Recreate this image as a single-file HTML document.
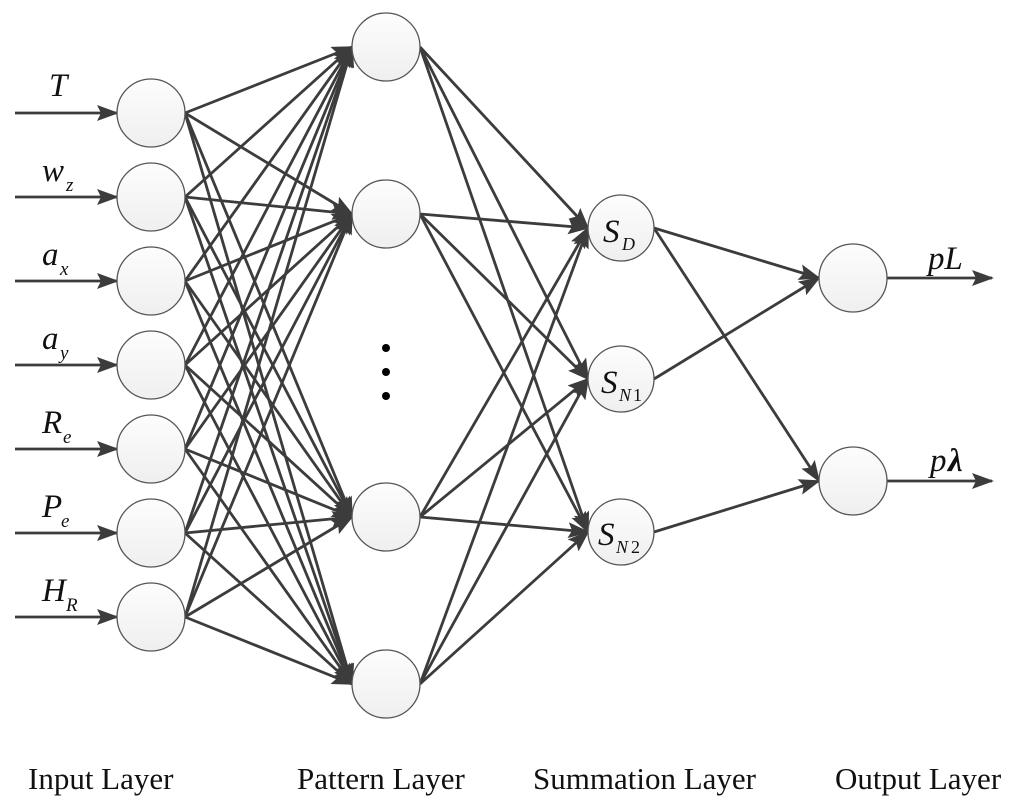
<!DOCTYPE html>
<html><head><meta charset="utf-8"><style>
body{margin:0;background:#fff;}
svg{display:block;}
text{font-family:"Liberation Serif",serif;fill:#111;}
</style></head><body>
<svg id="s" width="1024" height="811" viewBox="0 0 1024 811" xmlns="http://www.w3.org/2000/svg">
<defs>
<marker id="b" markerWidth="22" markerHeight="16" refX="20" refY="8" orient="auto" markerUnits="userSpaceOnUse">
<path d="M0,0 L22,8 L0,16 L4,8 Z" fill="#3c3c3c"/>
</marker>
<linearGradient id="g" x1="0" y1="0" x2="0" y2="1"><stop offset="0" stop-color="#fdfdfd"/><stop offset="1" stop-color="#efefef"/></linearGradient>
</defs>
<g id="lines" stroke="#3c3c3c" stroke-width="2.8" fill="none"></g>
<g id="nodes" stroke="#555" stroke-width="1.3" fill="url(#g)"></g>
<g font-style="italic" font-size="33">
<text x="49" y="96">T</text>
<text x="42" y="181">w</text><text x="66" y="191" font-size="19">z</text>
<text x="42" y="265">a</text><text x="60" y="275" font-size="19">x</text>
<text x="42" y="349">a</text><text x="60" y="359" font-size="19">y</text>
<text x="42" y="433">R</text><text x="63" y="443" font-size="19">e</text>
<text x="42" y="517">P</text><text x="61" y="527" font-size="19">e</text>
<text x="42" y="601">H</text><text x="66" y="611" font-size="19">R</text>
<text x="603" y="242">S</text><text x="622" y="250" font-size="18">D</text>
<text x="601" y="393">S</text><text x="619" y="401" font-size="18">N</text><text x="633" y="401" font-size="18" font-style="normal">1</text>
<text x="598" y="545">S</text><text x="616" y="553" font-size="18">N</text><text x="631" y="553" font-size="18" font-style="normal">2</text>
<text x="928" y="269">pL</text>
<text x="930" y="471">p</text><text x="948" y="471" font-weight="bold">λ</text>
</g>
<g fill="#000"><circle cx="386" cy="348" r="4"/><circle cx="386" cy="372" r="4"/><circle cx="386" cy="396" r="4"/></g>
<g font-size="31">
<text x="28" y="789">Input Layer</text>
<text x="297" y="789">Pattern Layer</text>
<text x="533" y="789">Summation Layer</text>
<text x="835" y="789">Output Layer</text>
</g>
</svg>
<script>
var NS="http://www.w3.org/2000/svg";
var L=document.getElementById("lines"),N=document.getElementById("nodes");
var inp=[113,197,281,365,449,533,617].map(function(y){return[151,y,34]});
var pat=[47,214,517,684].map(function(y){return[386,y,34]});
var sum=[228,379,532].map(function(y){return[621,y,33]});
var out=[278,481].map(function(y){return[853,y,34]});
function line(x1,y1,x2,y2){var l=document.createElementNS(NS,"line");l.setAttribute("x1",x1);l.setAttribute("y1",y1);l.setAttribute("x2",x2);l.setAttribute("y2",y2);l.setAttribute("marker-end","url(#b)");L.appendChild(l);}
function conn(a,b){line(a[0]+a[2],a[1],b[0]-b[2],b[1]);}
inp.forEach(function(a){pat.forEach(function(b){conn(a,b)})});
pat.forEach(function(a){sum.forEach(function(b){conn(a,b)})});
conn(sum[0],out[0]);conn(sum[0],out[1]);conn(sum[1],out[0]);conn(sum[2],out[1]);
inp.forEach(function(a){line(15,a[1],a[0]-a[2],a[1])});
out.forEach(function(a){line(a[0]+a[2],a[1],992,a[1])});
[inp,pat,sum,out].forEach(function(g){g.forEach(function(n){var c=document.createElementNS(NS,"circle");c.setAttribute("cx",n[0]);c.setAttribute("cy",n[1]);c.setAttribute("r",n[2]);N.appendChild(c);})});
</script>
</body></html>
